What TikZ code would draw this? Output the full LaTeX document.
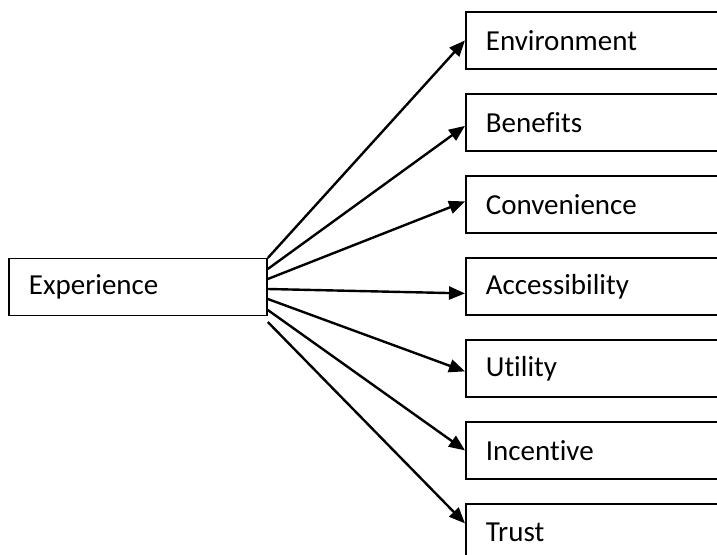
\documentclass[tikz,border=0pt]{standalone}
\usepackage{fontspec}
\setmainfont{Carlito}[Ligatures=NoCommon]
\usetikzlibrary{arrows.meta,positioning}

\begin{document}
\begin{tikzpicture}[x=0.5pt,y=-0.5pt,
node distance=11.6pt,
pfeil/.style={
  line width=1.2pt,
  -{Triangle[length=8pt,width=6.5pt]}
},
kasten/.style={
  rectangle,
  draw=black,
  line width=0.9pt,
  minimum height=28.5pt,
  text width=200pt,
  inner xsep=10pt,
  align=left,
  font=\fontsize{14.5}{17}\selectfont
}]
\useasboundingbox (0,0) rectangle (717,555);
\clip (0,0) rectangle (717,555);

\node[kasten, text width=109pt, anchor=west] (E) at (8,287) {Experience};

\node[kasten, anchor=north west] (ENV) at (465,11) {Environment};
\node[kasten] (BEN) [below=of ENV] {Benefits};
\node[kasten] (KON) [below=of BEN] {Convenience};
\node[kasten] (ZUG) [below=of KON] {Accessibility};
\node[kasten] (NUT) [below=of ZUG] {Utility};
\node[kasten] (ANR) [below=of NUT] {Incentive};
\node[kasten] (VER) [below=of ANR] {Trust};

\draw[pfeil] ([yshift=14.5pt]E.east) -- (ENV.west);
\draw[pfeil] ([yshift=9pt]E.east) -- ([yshift=-1.75pt]BEN.west);
\draw[pfeil] ([yshift=4pt]E.east) -- ([yshift=1.5pt]KON.west);
\draw[pfeil] ([yshift=-1pt]E.east) -- ([yshift=-3.5pt]ZUG.west);
\draw[pfeil] ([yshift=-6pt]E.east) -- ([yshift=-1.5pt]NUT.west);
\draw[pfeil] ([yshift=-11.5pt]E.east) -- (ANR.west);
\draw[pfeil] ([yshift=-17.5pt]E.east) -- ([yshift=4.5pt]VER.west);

\end{tikzpicture}
\end{document}
